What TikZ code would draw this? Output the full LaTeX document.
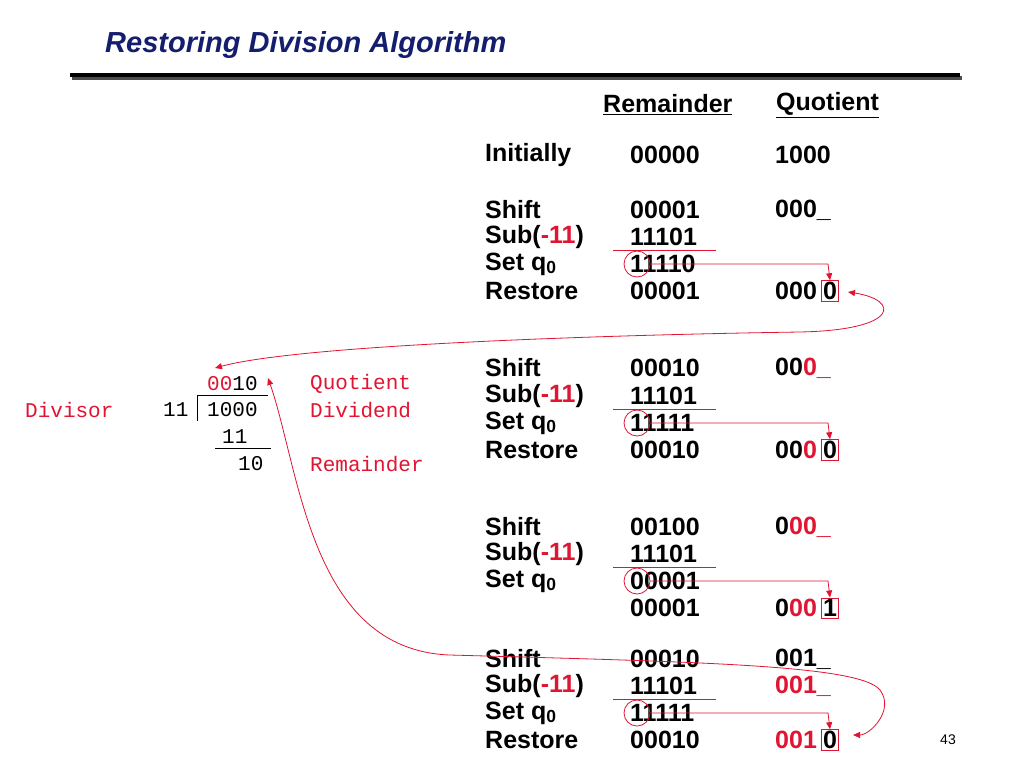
\documentclass[tikz,border=0pt]{standalone}
\usepackage{fontspec}
\setmainfont{Liberation Sans}
\newfontfamily\mono{Liberation Mono}
\usetikzlibrary{arrows.meta}
\definecolor{myred}{RGB}{225,20,50}
\definecolor{navy}{RGB}{20,30,110}
\begin{document}
\begin{tikzpicture}[x=1pt,y=-1pt,
  t/.style={anchor=west,inner sep=0pt,font=\fontsize{25}{25}\bfseries},
  m/.style={anchor=west,inner sep=0pt,font=\mono\fontsize{21}{21}\selectfont},
  rl/.style={myred,thick},
  ar/.style={myred,thick,-{Triangle[length=7pt,width=6pt]}}]
\useasboundingbox (0,0) rectangle (1024,768);
\fill[white] (0,0) rectangle (1024,768);
\node[anchor=west,inner sep=0pt,text=navy,font=\fontsize{29}{29}\bfseries\itshape] (title) at (105,45) {Restoring Division Algorithm};
\fill[black!70] (72,76) rectangle (962,80);
\fill[black] (70,73) rectangle (960,77);
\node[t] (hr) at (603,105) {\underline{Remainder}};
\node[t] (hq) at (776,105) {\underline{Quotient}};
% block 0
\node[t] (l0) at (485,155) {Initially};
\node[t] (r0) at (630,155) {00000};
\node[t] (q0) at (775,155) {1000};
% generic rows
\foreach \y/\lab/\rem in {210/Shift/00001,237/Sub(\textcolor{myred}{-11})/11101,291/Restore/00001,
 368/Shift/00010,396/Sub(\textcolor{myred}{-11})/11101,450/Restore/00010,
 527/Shift/00100,554/Sub(\textcolor{myred}{-11})/11101,608/{}/00001,
 659/Shift/00010,686/Sub(\textcolor{myred}{-11})/11101,740/Restore/00010}
 {\node[t] at (485,\y) {\lab}; \node[t] at (630,\y) {\rem};}
\foreach \y/\rem in {264/11110,423/11111,581/00001,713/11111}
 {\node[t] at (485,\y) {Set q\textsubscript{0}}; \node[t] at (630,\y) {\rem};
  \draw[myred,thick] (613,\y-14) -- (716,\y-14);
  \node[draw=myred,thick,circle,minimum size=26pt,inner sep=0pt] (c\y) at (637,\y) {};}
% quotients
\node[t] at (775,210) {000\_};
\node[t] (qa) at (775,291) {000\phantom{0}};
\node[t] at (775,368) {00\textcolor{myred}{0\_}};
\node[t] at (775,450) {00\textcolor{myred}{0}\phantom{0}};
\node[t] at (775,527) {0\textcolor{myred}{00\_}};
\node[t] at (775,608) {0\textcolor{myred}{00}\phantom{0}};
\node[t] at (775,659) {001\_};
\node[t] at (775,686) {\textcolor{myred}{001\_}};
\node[t] at (775,740) {\textcolor{myred}{001}\phantom{0}};
\foreach \y/\d in {291/0,450/0,608/1,740/0}{
 \node[t,anchor=center,draw=myred,thick,inner sep=1.5pt] (b\y) at (830,\y) {\d};}
\draw[ar] (c264.east) -- (828,264) -- (b291.north);
\draw[ar] (c423.east) -- (828,423) -- (b450.north);
\draw[ar] (c581.east) -- (828,581) -- (b608.north);
\draw[ar] (c713.east) -- (828,713) -- (b740.north);
% left division
\node[m] (qq) at (207,384) {\textcolor{myred}{00}10};
\node[m,text=myred] at (310,384) {Quotient};
\node[m,text=myred] at (25,410) {Divisor};
\node[m] at (163,410) {11};
\node[m] (dd) at (207,410) {1000};
\node[m,text=myred] at (310,410) {Dividend};
\node[m] at (222,437) {11};
\node[m] at (238,464) {10};
\node[m,text=myred] at (310,464) {Remainder};
\draw[thick] (197,421) -- (197,395) -- (268,395);
\draw[thick] (215,448) -- (271,448);
\coordinate (p1) at (215,368);
\coordinate (p2) at (268,378);
% curves
\draw[myred,thick,{Triangle[length=7pt,width=6pt]}-{Triangle[length=7pt,width=6pt]}]
 (p1) .. controls (300,345) and (600,335) .. (800,332)
 .. controls (900,330) and (900,300) .. (848,292);
\draw[myred,thick,{Triangle[length=7pt,width=6pt]}-{Triangle[length=7pt,width=6pt]}]
 (p2) .. controls (300,470) and (310,650) .. (450,655)
 .. controls (700,662) and (860,665) .. (880,690)
 .. controls (895,710) and (870,735) .. (853,735);
\node[anchor=center,font=\fontsize{14}{14}\selectfont] (pg) at (948,740) {43};
\end{tikzpicture}
\end{document}
